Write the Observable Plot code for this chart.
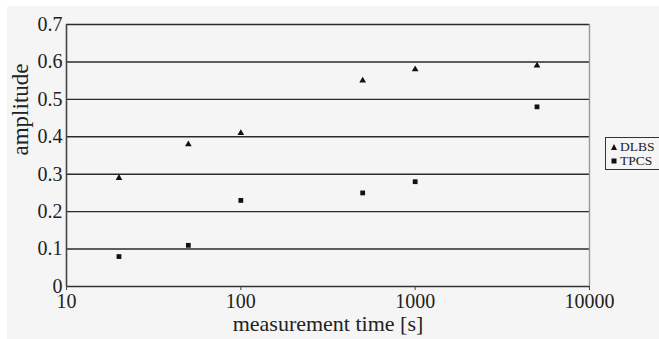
<!DOCTYPE html>
<html><head><meta charset="utf-8">
<script src="https://cdn.jsdelivr.net/npm/d3@7"></script>
<script src="https://cdn.jsdelivr.net/npm/@observablehq/plot@0.6"></script>
<style>
body{margin:0;background:#fff;}
#wrap{position:relative;width:659px;height:339px;overflow:hidden;}
#chart{position:absolute;left:7px;top:6px;}
#chart svg, #chart svg text{font-family:'Liberation Serif','Times New Roman',serif !important;}
#legend{position:absolute;left:605px;top:137px;width:60px;height:33px;border:1px solid #333;background:#f5f5f5;font-family:'Liberation Serif',serif;font-size:13.5px;color:#222;padding-top:2px;box-sizing:border-box;}
#legend div{display:flex;align-items:center;height:14px;line-height:14px;}
#legend svg{margin:0 3px 0 5px;}
</style></head>
<body>
<div id="wrap"><div id="chart"></div><div id="legend"></div></div>
<script>
const times = [20, 50, 100, 500, 1000, 5000];
const dlbs = [0.29, 0.38, 0.41, 0.55, 0.58, 0.59];
const tpcs = [0.08, 0.11, 0.23, 0.25, 0.28, 0.48];
const xTicks = [10, 100, 1000, 10000];
const yTicks = [0, 0.1, 0.2, 0.3, 0.4, 0.5, 0.6, 0.7];
const seriesNames = ["DLBS", "TPCS"];
const seriesSymbols = ["triangle", "square"];

const rows = [];
times.forEach((t, i) => {
  rows.push({t, v: dlbs[i], s: seriesNames[0]});
  rows.push({t, v: tpcs[i], s: seriesNames[1]});
});

const chart = Plot.plot({
  width: 652, height: 333,
  marginLeft: 59, marginTop: 18, marginRight: 70, marginBottom: 53,
  style: {background: "#f5f5f5", fontSize: "20px", color: "#222"},
  x: {type: "log", domain: [10, 10000]},
  y: {domain: [0, 0.7]},
  marks: [
    Plot.ruleY(yTicks.slice(1), {stroke: "#2a2a2a", strokeWidth: 1.4}),
    Plot.ruleX([10000], {stroke: "#999", strokeWidth: 1.4}),
    Plot.ruleX([10], {stroke: "#444", strokeWidth: 1.6}),
    Plot.ruleY([0], {stroke: "#333", strokeWidth: 1.6}),
    Plot.axisX({ticks: xTicks, tickFormat: d => String(d), tickSize: 4, tickPadding: 3, label: null, stroke: "#444"}),
    Plot.axisY({ticks: yTicks, tickFormat: d => d === 0 ? "0" : d.toFixed(1), tickSize: 0, tickPadding: 4, label: null}),
    Plot.dot(rows.filter(d => d.s === seriesNames[0]), {x: "t", y: "v", symbol: () => seriesSymbols[0], r: 2.5, fill: "#111", stroke: "none"}),
    Plot.dot(rows.filter(d => d.s === seriesNames[1]), {x: "t", y: "v", symbol: () => seriesSymbols[1], r: 2.7, fill: "#111", stroke: "none"}),
    Plot.text(["measurement time [s]"], {frameAnchor: "bottom", dy: 44, fontSize: 22, fill: "#222"}),
    Plot.text(["amplitude"], {frameAnchor: "left", dx: -46, rotate: -90, fontSize: 23, fill: "#222"})
  ]
});
document.getElementById("chart").appendChild(chart);

const leg = document.getElementById("legend");
const shapes = [
  '<svg width="6" height="6"><polygon points="3,0 6,6 0,6" fill="#111"/></svg>',
  '<svg width="6" height="6"><rect x="0.5" y="0.5" width="5" height="5" fill="#111"/></svg>'
];
seriesNames.forEach((n, i) => {
  const row = document.createElement("div");
  row.innerHTML = shapes[i] + "<span>" + n + "</span>";
  leg.appendChild(row);
});
</script>
</body></html>
